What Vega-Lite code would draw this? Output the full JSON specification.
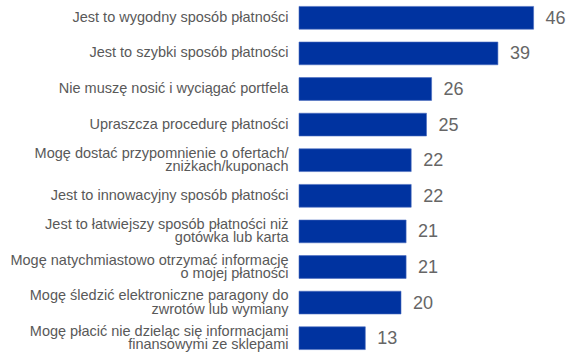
{
  "$schema": "https://vega.github.io/schema/vega-lite/v6.json",
  "autosize": "none",
  "width": 255,
  "height": 356,
  "padding": {"left": 299, "top": 0, "right": 16, "bottom": 1},
  "background": "white",
  "data": {"values": [
    {"label": "Jest to wygodny sposób płatności", "value": 46},
    {"label": "Jest to szybki sposób płatności", "value": 39},
    {"label": "Nie muszę nosić i wyciągać portfela", "value": 26},
    {"label": "Upraszcza procedurę płatności", "value": 25},
    {"label": "Mogę dostać przypomnienie o ofertach/\nzniżkach/kuponach", "value": 22},
    {"label": "Jest to innowacyjny sposób płatności", "value": 22},
    {"label": "Jest to łatwiejszy sposób płatności niż\ngotówka lub karta", "value": 21},
    {"label": "Mogę natychmiastowo otrzymać informację\no mojej płatności", "value": 21},
    {"label": "Mogę śledzić elektroniczne paragony do\nzwrotów lub wymiany", "value": 20},
    {"label": "Mogę płacić nie dzieląc się informacjami\nfinansowymi ze sklepami", "value": 13}
  ]},
  "encoding": {
    "y": {"field": "label", "type": "nominal", "sort": null,
      "scale": {"paddingInner": 0.36, "paddingOuter": 0.18},
      "axis": {"title": null, "domain": false, "ticks": false, "labelPadding": 11,
        "labelFont": "Liberation Sans", "labelFontSize": 14.5, "labelColor": "#595959",
        "labelLimit": 320, "labelLineHeight": 13.5,
        "labelExpr": "split(datum.label, '\\n')",
        "labelOffset": {"condition": {"test": "indexof(datum.value, '\\n') >= 0", "value": -6.5}, "value": 0}}},
    "x": {"field": "value", "type": "quantitative", "scale": {"domain": [0, 50]}, "axis": null}
  },
  "layer": [
    {"mark": {"type": "bar", "color": "#0033A0", "stroke": "#4a6cc0", "strokeWidth": 0.6}},
    {"mark": {"type": "text", "align": "left", "baseline": "middle", "dx": 12, "dy": 1,
      "font": "Liberation Sans", "fontSize": 18, "color": "#666666"},
     "encoding": {"text": {"field": "value", "type": "quantitative"}}}
  ],
  "config": {"view": {"stroke": null}}
}
